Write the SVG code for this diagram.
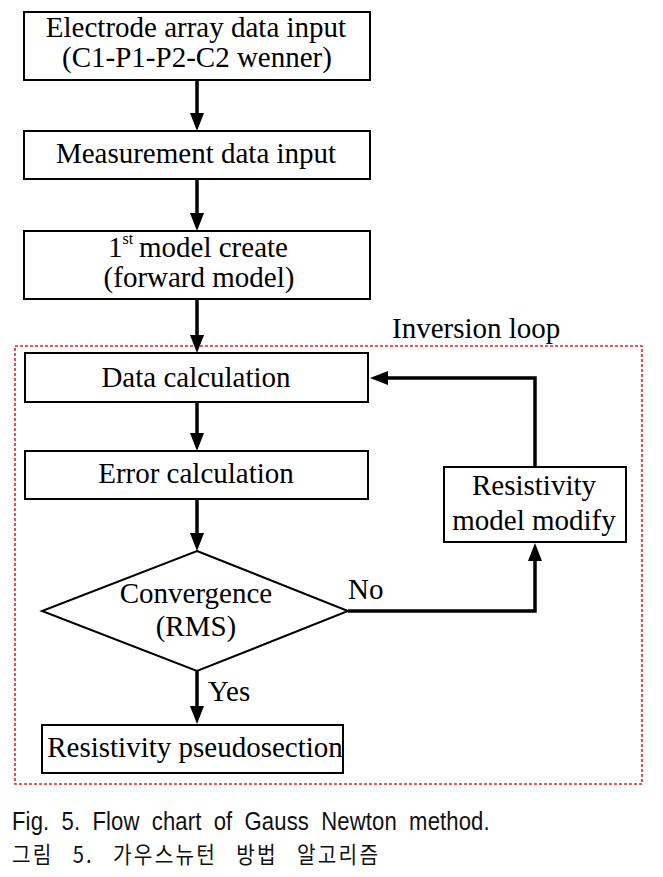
<svg xmlns="http://www.w3.org/2000/svg" width="663" height="877" viewBox="0 0 663 877">
<style>
.box{fill:#fff;stroke:#000;stroke-width:2}
.t{font-size:29px;fill:#000}
.ln{fill:none;stroke:#000;stroke-width:3.5}
</style>
<defs>
<marker id="ah" markerUnits="userSpaceOnUse" markerWidth="20" markerHeight="16" refX="8" refY="7" orient="auto">
<path d="M0,0 L18,7 L0,14 z" fill="#000"/>
</marker>
</defs>
<rect width="663" height="877" fill="#fff"/>
<g id="loop">
<rect x="15" y="346" width="627" height="438" fill="none" stroke="#d42a2a" stroke-width="1.6" stroke-dasharray="3 2"/>
<text class="t" font-family="Liberation Serif, DejaVu Serif, serif" x="392" y="338">Inversion loop</text>
</g>
<g id="connectors">
<line class="ln" x1="197" y1="80" x2="197" y2="121" marker-end="url(#ah)"/>
<line class="ln" x1="197" y1="179" x2="197" y2="221" marker-end="url(#ah)"/>
<line class="ln" x1="197" y1="299" x2="197" y2="343" marker-end="url(#ah)"/>
<line class="ln" x1="197" y1="402" x2="197" y2="441" marker-end="url(#ah)"/>
<line class="ln" x1="197" y1="499" x2="197" y2="541" marker-end="url(#ah)"/>
<line class="ln" x1="197" y1="671" x2="197" y2="714" marker-end="url(#ah)"/>
<polyline class="ln" points="348,611 535,611 535,553" marker-end="url(#ah)"/>
<polyline class="ln" points="535,467 535,378 380,378" marker-end="url(#ah)"/>
<text class="t" font-family="Liberation Serif, DejaVu Serif, serif" x="348" y="599">No</text>
<text class="t" font-family="Liberation Serif, DejaVu Serif, serif" x="208" y="701">Yes</text>
</g>
<g id="n1" font-family="Liberation Serif, DejaVu Serif, serif">
<rect class="box" x="24" y="12" width="346" height="68"/>
<text class="t" x="196" y="37" text-anchor="middle">Electrode array data input</text>
<text class="t" x="197" y="67" text-anchor="middle">(C1-P1-P2-C2 wenner)</text>
</g>
<g id="n2" font-family="Liberation Serif, DejaVu Serif, serif">
<rect class="box" x="24" y="131" width="346" height="48"/>
<text class="t" x="196" y="163" text-anchor="middle">Measurement data input</text>
</g>
<g id="n3" font-family="Liberation Serif, DejaVu Serif, serif">
<rect class="box" x="24" y="231" width="346" height="68"/>
<text class="t" x="108" y="257">1<tspan dy="-13" font-size="16">st</tspan><tspan x="139" dy="13">model create</tspan></text>
<text class="t" x="199" y="287" text-anchor="middle">(forward model)</text>
</g>
<g id="n4" font-family="Liberation Serif, DejaVu Serif, serif">
<rect class="box" x="25" y="353" width="343" height="49"/>
<text class="t" x="196" y="387" text-anchor="middle">Data calculation</text>
</g>
<g id="n5" font-family="Liberation Serif, DejaVu Serif, serif">
<rect class="box" x="25" y="451" width="343" height="48"/>
<text class="t" x="196" y="483" text-anchor="middle">Error calculation</text>
</g>
<g id="n6" font-family="Liberation Serif, DejaVu Serif, serif">
<polygon points="197,551 348,611 197,671 42,611" fill="#fff" stroke="#000" stroke-width="2"/>
<text class="t" x="196" y="603" text-anchor="middle">Convergence</text>
<text class="t" x="196" y="636" text-anchor="middle">(RMS)</text>
</g>
<g id="n7" font-family="Liberation Serif, DejaVu Serif, serif">
<rect class="box" x="444" y="467" width="182" height="75"/>
<text class="t" x="534" y="495" text-anchor="middle">Resistivity</text>
<text class="t" x="534" y="530" text-anchor="middle">model modify</text>
</g>
<g id="n8" font-family="Liberation Serif, DejaVu Serif, serif">
<rect class="box" x="42" y="725" width="301" height="48"/>
<text class="t" x="195" y="757" text-anchor="middle">Resistivity pseudosection</text>
</g>
<g id="caption" fill="#111">
<text transform="scale(0.85,1)" font-family="Liberation Sans, Noto Sans CJK KR, sans-serif" font-size="26" x="14.1" y="830" word-spacing="7" textLength="562" lengthAdjust="spacing">Fig.  5. Flow chart of Gauss Newton method.</text>
<text transform="scale(0.88,1)" font-family="Noto Sans CJK KR, sans-serif" font-size="23" x="13.6" y="863" word-spacing="14" textLength="416" lengthAdjust="spacing">그림 5. 가우스뉴턴 방법 알고리즘</text>
</g>
</svg>
